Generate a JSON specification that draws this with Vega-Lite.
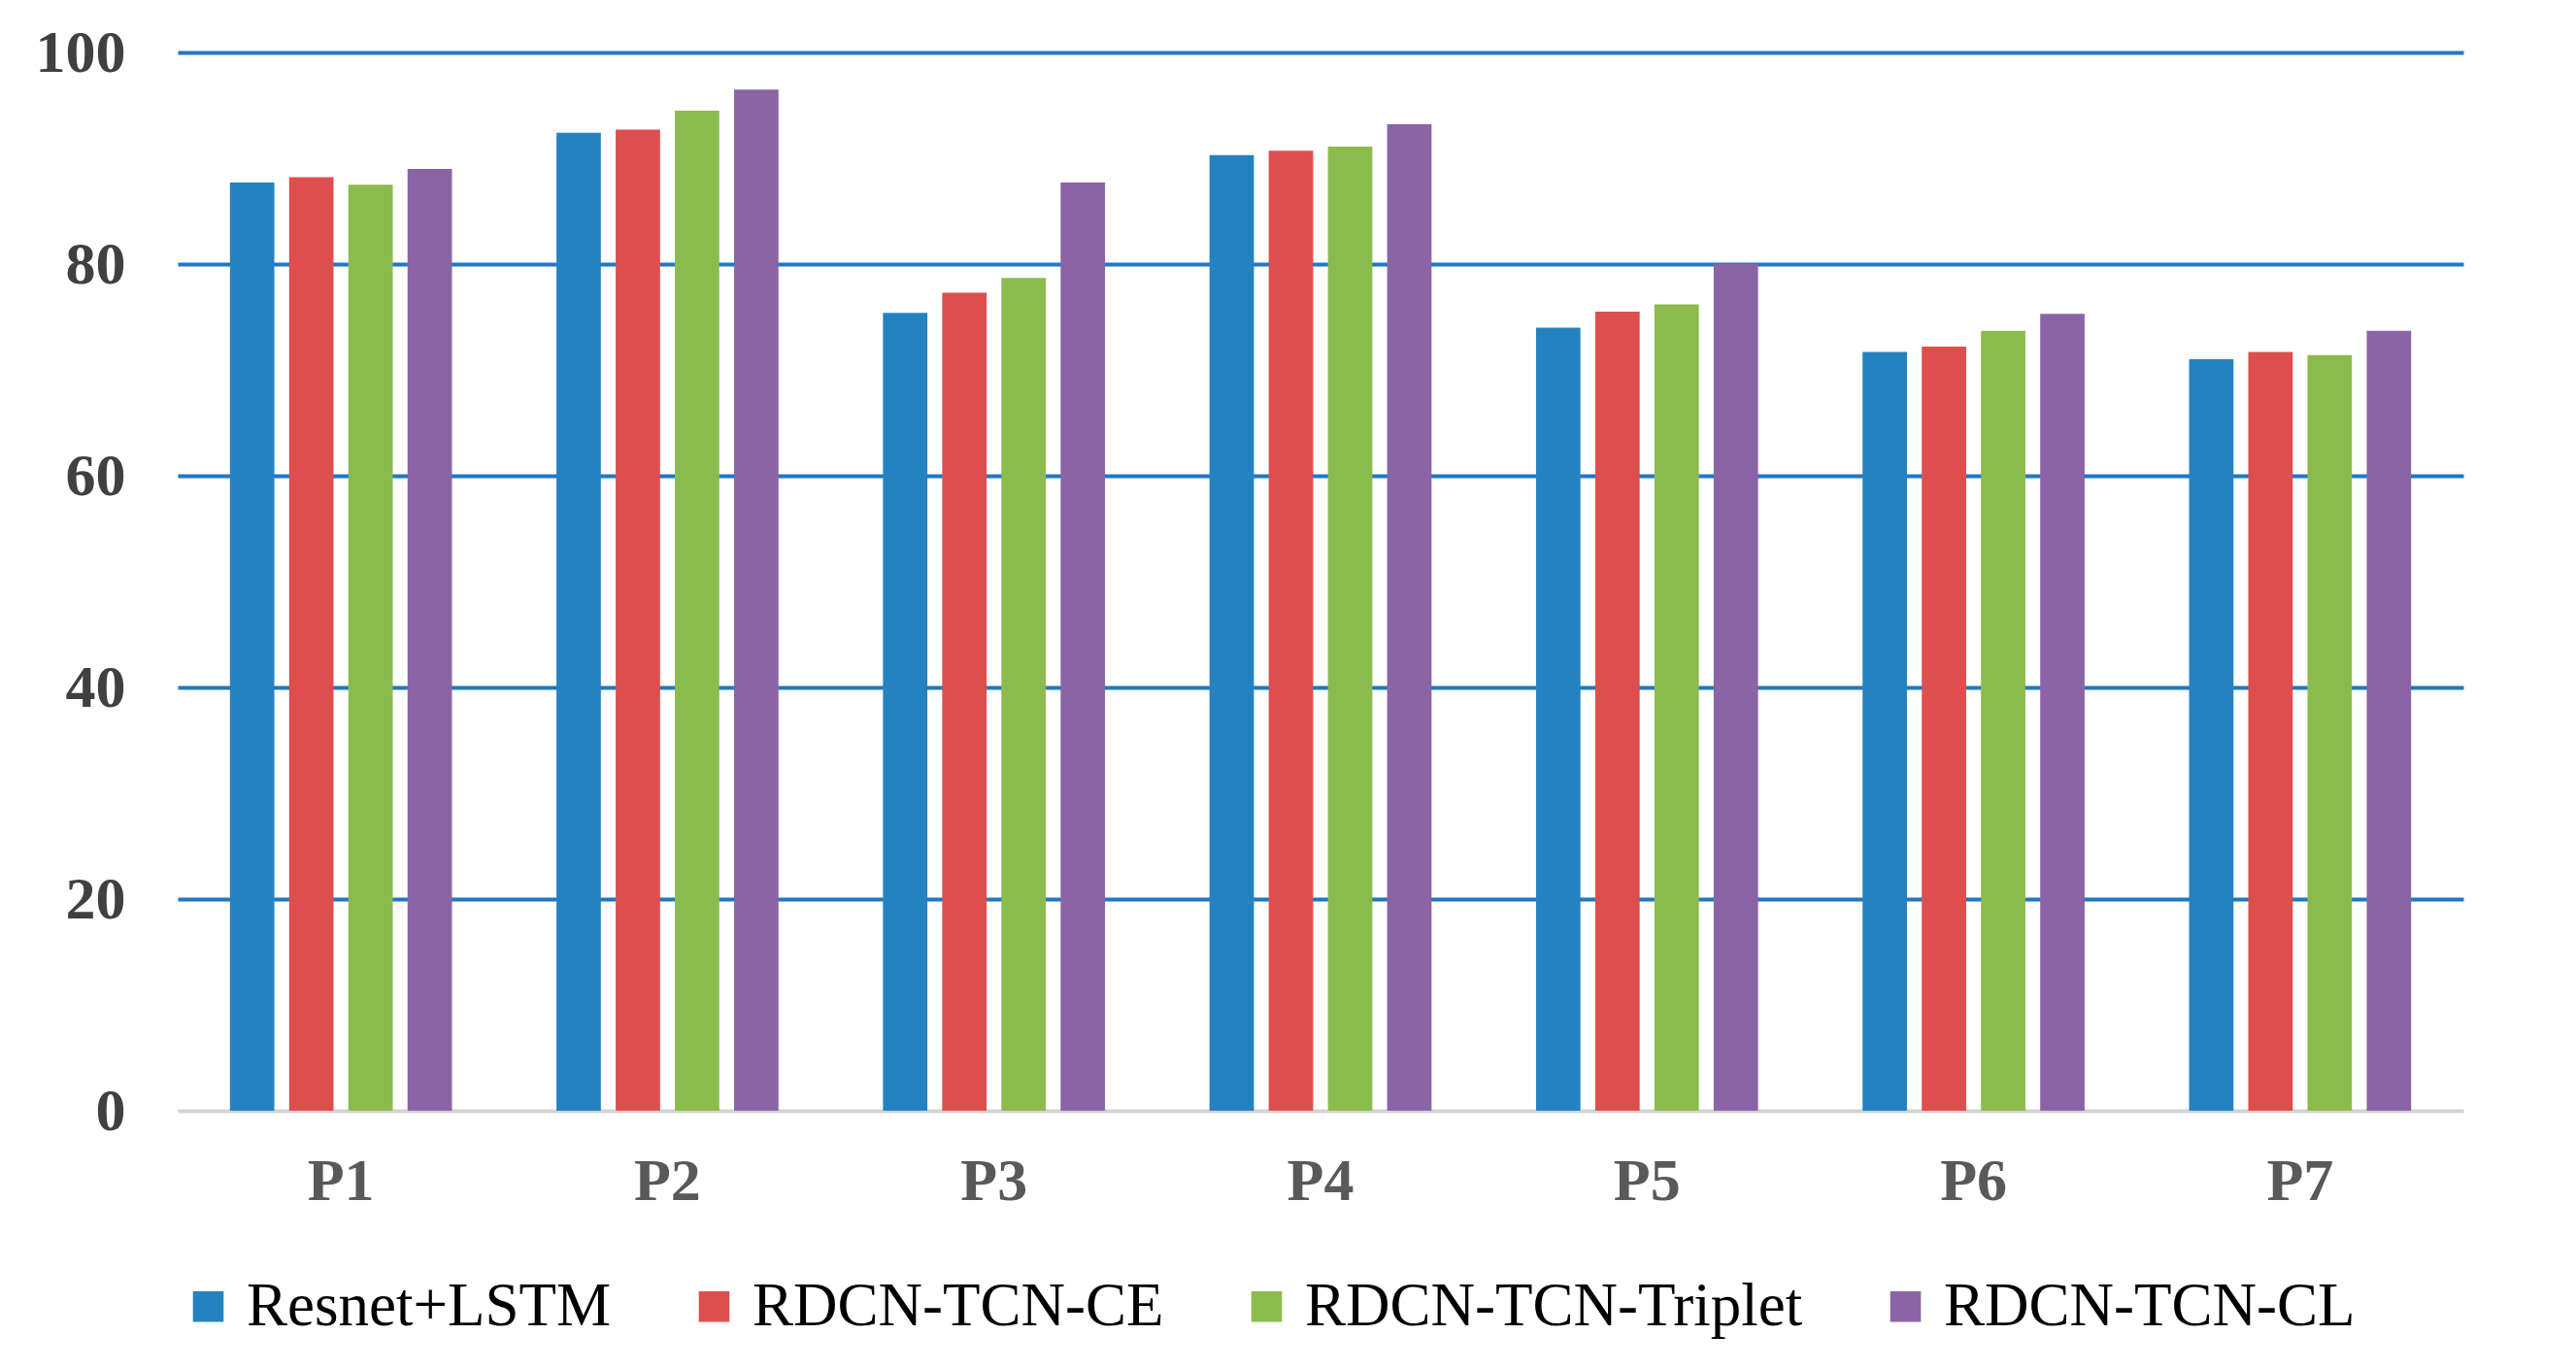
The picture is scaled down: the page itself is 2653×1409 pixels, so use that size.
{
  "$schema": "https://vega.github.io/schema/vega-lite/v6.json",
  "autosize": {"type": "none"},
  "width": 2354,
  "height": 1090,
  "padding": {"left": 183, "top": 54, "right": 116, "bottom": 265},
  "background": "white",
  "data": {
    "values": [
      {"p": "P1", "model": "Resnet+LSTM", "v": 87.7},
      {"p": "P1", "model": "RDCN-TCN-CE", "v": 88.2},
      {"p": "P1", "model": "RDCN-TCN-Triplet", "v": 87.5},
      {"p": "P1", "model": "RDCN-TCN-CL", "v": 89.0},
      {"p": "P2", "model": "Resnet+LSTM", "v": 92.4},
      {"p": "P2", "model": "RDCN-TCN-CE", "v": 92.7},
      {"p": "P2", "model": "RDCN-TCN-Triplet", "v": 94.5},
      {"p": "P2", "model": "RDCN-TCN-CL", "v": 96.5},
      {"p": "P3", "model": "Resnet+LSTM", "v": 75.4},
      {"p": "P3", "model": "RDCN-TCN-CE", "v": 77.3},
      {"p": "P3", "model": "RDCN-TCN-Triplet", "v": 78.7},
      {"p": "P3", "model": "RDCN-TCN-CL", "v": 87.7},
      {"p": "P4", "model": "Resnet+LSTM", "v": 90.3},
      {"p": "P4", "model": "RDCN-TCN-CE", "v": 90.7},
      {"p": "P4", "model": "RDCN-TCN-Triplet", "v": 91.1},
      {"p": "P4", "model": "RDCN-TCN-CL", "v": 93.2},
      {"p": "P5", "model": "Resnet+LSTM", "v": 74.0},
      {"p": "P5", "model": "RDCN-TCN-CE", "v": 75.5},
      {"p": "P5", "model": "RDCN-TCN-Triplet", "v": 76.2},
      {"p": "P5", "model": "RDCN-TCN-CL", "v": 80.0},
      {"p": "P6", "model": "Resnet+LSTM", "v": 71.7},
      {"p": "P6", "model": "RDCN-TCN-CE", "v": 72.2},
      {"p": "P6", "model": "RDCN-TCN-Triplet", "v": 73.7},
      {"p": "P6", "model": "RDCN-TCN-CL", "v": 75.3},
      {"p": "P7", "model": "Resnet+LSTM", "v": 71.0},
      {"p": "P7", "model": "RDCN-TCN-CE", "v": 71.7},
      {"p": "P7", "model": "RDCN-TCN-Triplet", "v": 71.4},
      {"p": "P7", "model": "RDCN-TCN-CL", "v": 73.7}
    ]
  },
  "mark": {"type": "bar"},
  "encoding": {
    "x": {
      "field": "p",
      "type": "nominal",
      "sort": null,
      "scale": {"paddingInner": 0.32, "paddingOuter": 0.16},
      "axis": {
        "title": null,
        "labelAngle": 0,
        "labelFont": "Liberation Serif",
        "labelFontWeight": "bold",
        "labelFontSize": 62,
        "labelColor": "#595959",
        "labelPadding": 42,
        "ticks": false,
        "domainColor": "#d4d4d4",
        "domainWidth": 4,
        "grid": false
      }
    },
    "xOffset": {
      "field": "model",
      "type": "nominal",
      "sort": ["Resnet+LSTM", "RDCN-TCN-CE", "RDCN-TCN-Triplet", "RDCN-TCN-CL"],
      "scale": {"paddingInner": 0.25, "paddingOuter": 0}
    },
    "y": {
      "field": "v",
      "type": "quantitative",
      "scale": {"domain": [0, 100], "nice": false},
      "axis": {
        "title": null,
        "values": [0, 20, 40, 60, 80, 100],
        "labelFont": "Liberation Serif",
        "labelFontWeight": "bold",
        "labelFontSize": 62,
        "labelColor": "#404040",
        "labelPadding": 54,
        "ticks": false,
        "domain": false,
        "grid": true,
        "gridColor": {"condition": {"test": "datum.value === 0", "value": "transparent"}, "value": "#1f78c4"},
        "gridWidth": 4,
        "gridOpacity": 1
      }
    },
    "color": {
      "field": "model",
      "type": "nominal",
      "sort": ["Resnet+LSTM", "RDCN-TCN-CE", "RDCN-TCN-Triplet", "RDCN-TCN-CL"],
      "scale": {
        "domain": ["Resnet+LSTM", "RDCN-TCN-CE", "RDCN-TCN-Triplet", "RDCN-TCN-CL"],
        "range": ["#2582c0", "#dd4f4d", "#8cbb4d", "#8b64a6"]
      },
      "legend": {
        "title": null,
        "orient": "none",
        "legendX": 0,
        "legendY": 1260,
        "direction": "horizontal",
        "columns": 4,
        "columnPadding": 74,
        "symbolType": "square",
        "symbolSize": 1000,
        "symbolStrokeWidth": 0,
        "labelFont": "Liberation Serif",
        "labelFontSize": 63,
        "labelColor": "#000000",
        "labelOffset": 8,
        "labelLimit": 0
      }
    }
  },
  "config": {"view": {"stroke": null}}
}
